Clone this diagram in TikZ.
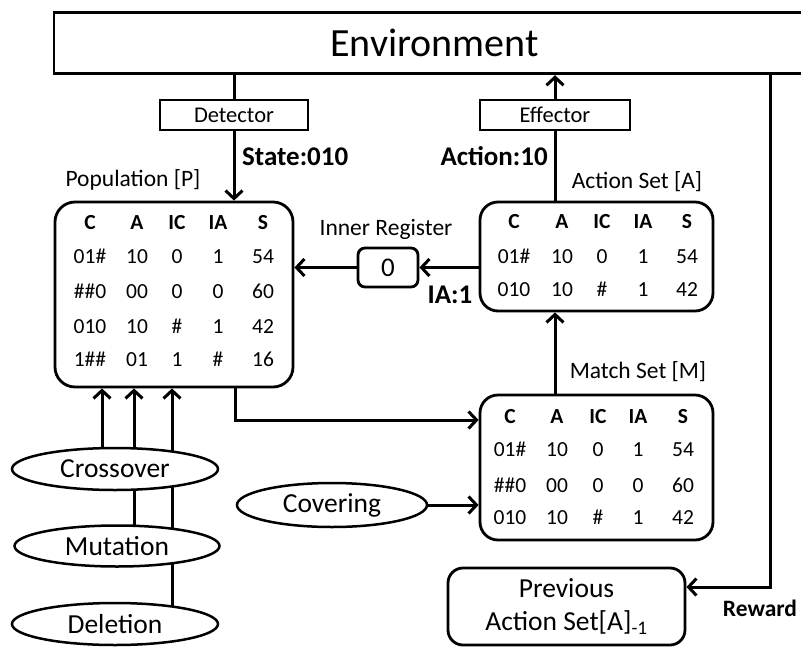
\documentclass[tikz,border=0pt]{standalone}
\usepackage{fontspec}
\setmainfont{Carlito}
\usetikzlibrary{arrows.meta,shapes.geometric,backgrounds}

\newcommand{\fsz}[2]{\fontsize{#1}{#2}\selectfont}

\tikzset{
  wire/.style={line width=3pt},
  arr/.style={line width=3pt, -{Straight Barb[length=8pt,width=17pt]}},
  plainbox/.style={draw, rectangle, line width=2.8pt, inner sep=0pt},
  setbox/.style={draw, rectangle, rounded corners=20pt, line width=2.8pt, fill=white},
  opnode/.style={draw, ellipse, line width=2.5pt, fill=white, inner sep=0pt,
                 font={\fsz{27.5}{33}}},
  lbl/.style={inner sep=0pt, font={\fsz{23.5}{28}}},
  blbl/.style={inner sep=0pt, font={\bfseries\fsz{27}{32}}},
  cell/.style={inner sep=0pt, text height=13.6pt, text depth=0pt, font={\fsz{21.5}{26}}},
  head/.style={inner sep=0pt, text height=13.6pt, text depth=0pt, font={\bfseries\fsz{21.5}{26}}},
}

\begin{document}
\begin{tikzpicture}[x=1pt, y=-1pt]
\useasboundingbox (0,0) rectangle (801,646);

% --- main blocks ---
\node[plainbox, minimum width=761pt, minimum height=61pt, font={\fsz{40}{48}}]
  (env) at (434.5,43.3) {Environment};
\node[plainbox, minimum width=148pt, minimum height=30pt, font={\fsz{22.5}{27}}]
  (det) at (234,115) {Detector};
\node[plainbox, minimum width=150pt, minimum height=30pt, font={\fsz{22.5}{27}}]
  (eff) at (555,115) {Effector};

\node[setbox, minimum width=238pt, minimum height=185pt] (pop) at (174,294.5) {};
\node[setbox, rounded corners=18pt, minimum width=233pt, minimum height=109pt] (act) at (596.5,256.5) {};
\node[setbox, rounded corners=18pt, minimum width=233pt, minimum height=145pt] (match) at (596.5,467.5) {};
\node[setbox, rounded corners=7pt, minimum width=60pt, minimum height=39pt, inner sep=0pt,
      font={\fsz{27}{32}}] (reg) at (388,267.5) {0};
\node[setbox, rounded corners=15pt, minimum width=237pt, minimum height=77pt, align=center,
      inner sep=0pt, font={\fsz{27.5}{33}}] (prev) at (566.5,606.5)
  {Previous\\Action Set[A]\textsubscript{-1}};

% --- genetic and covering operators ---
\node[opnode, minimum width=206pt, minimum height=42pt] (cross) at (115,469) {Crossover};
\node[opnode, minimum width=205pt, minimum height=41pt] (mut) at (117,546) {Mutation};
\node[opnode, minimum width=206pt, minimum height=42pt] (del) at (115,624) {Deletion};
\node[opnode, minimum width=190pt, minimum height=44pt] (cov) at (332,505) {Covering};

% --- labels ---
\node[lbl] (lpop) at (133,180) {Population [P]};
\node[lbl] (lact) at (637,182) {Action Set [A]};
\node[lbl] (lmatch) at (638,372) {Match Set [M]};
\node[lbl] (lreg) at (386,229) {Inner Register};
\node[blbl, anchor=west] (lstate) at (242,157) {State:010};
\node[blbl, anchor=east] (laction) at (548,156) {Action:10};
\node[blbl] (lia) at (450,295) {IA:1};
\node[inner sep=0pt, font={\bfseries\fsz{23.5}{28}}] (lrew) at (760,608) {Reward};

% --- population [P] table ---
\foreach \x/\t [count=\i] in {90/C,137/A,177/IC,218/IA,263/S}
  \node[head] (ph\i) at (\x,223) {\t};
\foreach \yy/\a/\b/\c/\d/\e [count=\r] in
  {257/01\#/10/0/1/54, 292/\#\#0/00/0/0/60, 327/010/10/\#/1/42, 360/1\#\#/01/1/\#/16}{
  \node[cell] (p\r a) at (90,\yy) {\a};
  \node[cell] (p\r b) at (137,\yy) {\b};
  \node[cell] (p\r c) at (177,\yy) {\c};
  \node[cell] (p\r d) at (218,\yy) {\d};
  \node[cell] (p\r e) at (263,\yy) {\e};
}

% --- action set [A] table ---
\foreach \x/\t [count=\i] in {514/C,562/A,602/IC,643/IA,687/S}
  \node[head] (ah\i) at (\x,222) {\t};
\foreach \yy/\a/\b/\c/\d/\e [count=\r] in
  {257/01\#/10/0/1/54, 290/010/10/\#/1/42}{
  \node[cell] (a\r a) at (514,\yy) {\a};
  \node[cell] (a\r b) at (562,\yy) {\b};
  \node[cell] (a\r c) at (602,\yy) {\c};
  \node[cell] (a\r d) at (643,\yy) {\d};
  \node[cell] (a\r e) at (687,\yy) {\e};
}

% --- match set [M] table ---
\foreach \x/\t [count=\i] in {510/C,557/A,598/IC,638/IA,683/S}
  \node[head] (mh\i) at (\x,417) {\t};
\foreach \yy/\a/\b/\c/\d/\e [count=\r] in
  {450/01\#/10/0/1/54, 486/\#\#0/00/0/0/60, 518/010/10/\#/1/42}{
  \node[cell] (m\r a) at (510,\yy) {\a};
  \node[cell] (m\r b) at (557,\yy) {\b};
  \node[cell] (m\r c) at (598,\yy) {\c};
  \node[cell] (m\r d) at (638,\yy) {\d};
  \node[cell] (m\r e) at (683,\yy) {\e};
}

% --- connectors (behind the blocks) ---
\coordinate (ax) at (555,0);
\coordinate (px) at (235,420);
\coordinate (rw) at (770,587);
\coordinate (g1) at (102,0);
\coordinate (g2) at (134,0);
\coordinate (g3) at (172,0);
\begin{pgfonlayer}{background}
  \draw[wire] (det.north |- env.south) -- (det.north);
  \draw[arr] (det.south) -- (det.south |- pop.north);
  \draw[wire] (ax |- act.north) -- (eff.south);
  \draw[arr] (eff.north) -- (eff.north |- env.south);
  \draw[arr] (reg.east -| act.west) -- (reg.east);
  \draw[arr] (reg.west) -- (reg.west -| pop.east);
  \draw[arr] (ax |- match.north) -- (ax |- act.south);
  \draw[arr] (px |- pop.south) -- (px) -- (px -| match.west);
  \draw[arr] (cov.east) -- (cov.east -| match.west);
  \draw[arr] (rw |- env.south) -- (rw) -- (rw -| prev.east);
  \draw[arr] (g1 |- cross.center) -- (g1 |- pop.south);
  \draw[arr] (g2 |- mut.center) -- (g2 |- pop.south);
  \draw[arr] (g3 |- del.center) -- (g3 |- pop.south);
\end{pgfonlayer}
\end{tikzpicture}
\end{document}
